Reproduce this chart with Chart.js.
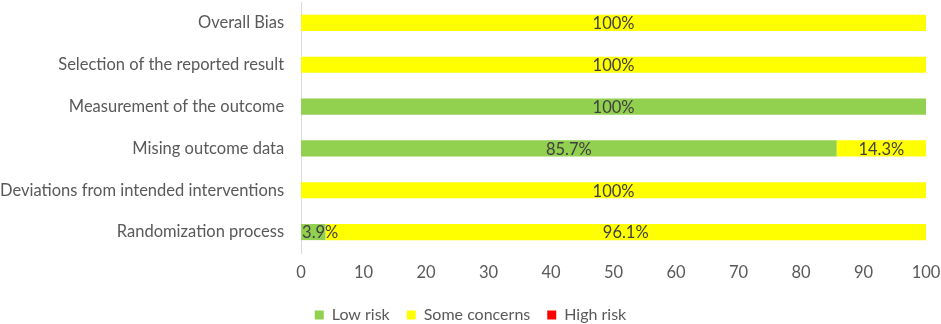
<!DOCTYPE html>
<html>
<head>
<meta charset="utf-8">
<script src="https://cdn.jsdelivr.net/npm/chart.js@4"></script>
<style>
  html, body { margin: 0; padding: 0; background: #fff; }
  #wrap { width: 941px; height: 324px; }
</style>
</head>
<body>
<div id="wrap"><canvas id="myChart" width="941" height="324"></canvas></div>
<script>
// categories, top to bottom
const domains = [
    'Overall Bias',
    'Selection of the reported result',
    'Measurement of the outcome',
    'Mising outcome data',
    'Deviations from intended interventions',
    'Randomization process'
];
const lowRisk = [0, 0, 100, 85.7, 0, 3.9];
const someConcerns = [100, 100, 0, 14.3, 100, 96.1];
const highRisk = [0, 0, 0, 0, 0, 0];
const xTicks = [0, 10, 20, 30, 40, 50, 60, 70, 80, 90, 100];

const fontFamily = 'Lato, "Open Sans", sans-serif';
const textColor = '#595959';

// percent labels in the middle of each piece of bar
const barLabels = {
    id: 'barLabels',
    afterDatasetsDraw(chart) {
        const ctx = chart.ctx;
        ctx.save();
        ctx.font = '16.5px ' + fontFamily;
        ctx.fillStyle = '#404040';
        ctx.textBaseline = 'middle';
        ctx.textAlign = 'center';
        chart.data.datasets.forEach(function (ds, i) {
            const meta = chart.getDatasetMeta(i);
            meta.data.forEach(function (bar, j) {
                const v = ds.data[j];
                if (!v) return;
                const txt = v + '%';
                const w = ctx.measureText(txt).width;
                let x = (bar.x + bar.base) / 2;
                if (x - w / 2 < bar.base) x = bar.base + w / 2 + 1;
                ctx.fillText(txt, x, bar.y + 1);
            });
        });
        ctx.restore();
    }
};

const config = {
    type: 'bar',
    data: {
        labels: domains,
        datasets: [
            { label: 'Low risk', data: lowRisk, backgroundColor: '#92D050' },
            { label: 'Some concerns', data: someConcerns, backgroundColor: '#FFFF00' },
            { label: 'High risk', data: highRisk, backgroundColor: '#FF0000' }
        ]
    },
    options: {
        indexAxis: 'y',
        responsive: false,
        animation: false,
        categoryPercentage: 0.77,
        barPercentage: 0.5,
        layout: { padding: { top: 2, right: 0, left: 0, bottom: -9 } },
        plugins: {
            tooltip: { enabled: false },
            legend: {
                position: 'bottom',
                labels: {
                    boxWidth: 9,
                    boxHeight: 9,
                    color: textColor,
                    padding: 17,
                    font: { family: fontFamily, size: 16 }
                }
            }
        },
        scales: {
            x: {
                stacked: true,
                min: 0,
                max: 100,
                afterBuildTicks(axis) {
                    axis.ticks = xTicks.map(v => ({ value: v }));
                },
                afterFit(scale) {
                    scale.paddingLeft = 0;
                    scale.paddingRight = 15;
                    scale.height = 37;
                },
                grid: { display: false, drawTicks: false },
                border: { display: false },
                ticks: {
                    color: textColor,
                    padding: 10,
                    font: { family: fontFamily, size: 16.5 }
                }
            },
            y: {
                stacked: true,
                afterFit(scale) {
                    scale.paddingTop = 0;
                    scale.paddingBottom = 0;
                    scale.width -= 17;
                },
                grid: { display: false, drawTicks: false },
                border: { display: true, color: '#d9d9d9', width: 1 },
                ticks: {
                    color: textColor,
                    padding: 17,
                    font: { family: fontFamily, size: 16.5 }
                }
            }
        }
    },
    plugins: [barLabels]
};

const myChart = new Chart(document.getElementById('myChart'), config);
</script>
</body>
</html>
